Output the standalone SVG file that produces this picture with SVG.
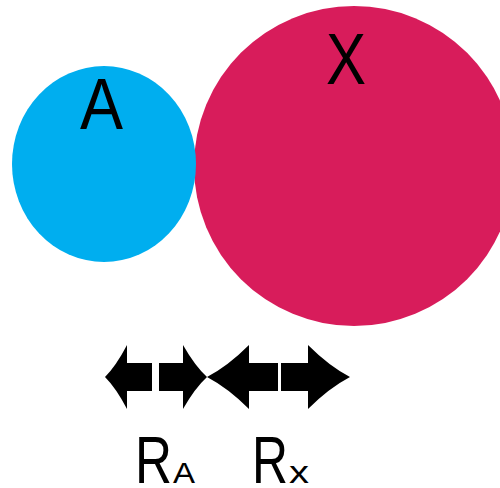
<svg xmlns="http://www.w3.org/2000/svg" width="500" height="488" viewBox="0 0 500 488">
<style>
.lbl{font-family:"Liberation Sans",Arial,sans-serif;fill:#000}
.arr{fill:#000}
</style>
<rect width="500" height="488" fill="#fff"/>
<g id="nodeX">
<circle cx="354" cy="166" r="160" fill="#d81c5b"/>
<text class="lbl" x="326" y="84" font-size="72" textLength="40" lengthAdjust="spacingAndGlyphs">X</text>
</g>
<g id="nodeA">
<ellipse cx="104" cy="164" rx="92" ry="98" fill="#00aeef"/>
<text class="lbl" x="80" y="129" font-size="72" textLength="43" lengthAdjust="spacingAndGlyphs">A</text>
</g>
<g id="connectors">
<path class="arr" d="M105,377 Q116,366 127,345 L127,363 L152,363 L152,391 L127,391 L127,409 Q116,388 105,377 Z"/>
<path class="arr" d="M207,377 Q195,366 183,345 L183,363 L159,363 L159,391 L183,391 L183,409 Q195,388 207,377 Z"/>
<path class="arr" d="M207,377 Q228,366 249,345 L249,363 L278,363 L278,391 L249,391 L249,409 Q228,388 207,377 Z"/>
<path class="arr" d="M350,377 Q329,366 308,345 L308,363 L281,363 L281,391 L308,391 L308,409 Q329,388 350,377 Z"/>
</g>
<g id="labelRA">
<text class="lbl" y="483"><tspan x="135" font-size="67" textLength="37" lengthAdjust="spacingAndGlyphs">R</tspan><tspan x="173" font-size="29" textLength="22" lengthAdjust="spacingAndGlyphs">A</tspan></text>
</g>
<g id="labelRx">
<text class="lbl" y="483"><tspan x="252" font-size="67" textLength="36" lengthAdjust="spacingAndGlyphs">R</tspan><tspan x="289" font-size="31" textLength="20" lengthAdjust="spacingAndGlyphs">x</tspan></text>
</g>
</svg>
